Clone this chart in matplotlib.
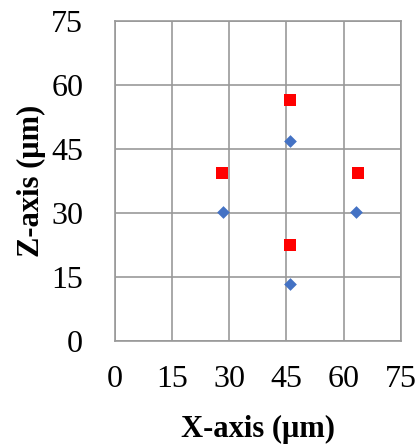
import matplotlib.pyplot as plt

plt.rcParams['font.family'] = ['Liberation Serif', 'DejaVu Serif']

# blue diamonds
blue_x = [28.4, 45.9, 45.9, 63.3]
blue_z = [30.3, 46.9, 13.4, 30.3]
# red squares
red_x = [28.1, 45.9, 45.9, 63.7]
red_z = [39.5, 56.6, 22.4, 39.5]

ticks = [0, 15, 30, 45, 60, 75]

fig = plt.figure(figsize=(4.2, 4.47), dpi=100)
ax = fig.add_axes([0.274, 0.237, 0.68, 0.716])

ax.scatter(blue_x, blue_z, marker='D', s=42, color='#4472C4', zorder=3, linewidths=0)
ax.scatter(red_x, red_z, marker='s', s=70, color='#FF0000', zorder=3, linewidths=0)

ax.set_xlim(0, 75)
ax.set_ylim(0, 75)
ax.set_xticks(ticks)
ax.set_yticks(ticks)
ax.grid(True, color='#999999', linewidth=1.2)
ax.set_axisbelow(True)
for s in ax.spines.values():
    s.set_color('#999999')
    s.set_linewidth(1.2)
ax.tick_params(length=0, labelsize=23)
ax.tick_params(axis='y', pad=23)
ax.tick_params(axis='x', pad=17)

ax.set_xlabel('X-axis (μm)', fontsize=22, fontweight='bold', labelpad=15)
ax.set_ylabel('Z-axis (μm)', fontsize=22, fontweight='bold', labelpad=4)

fig.savefig('out.png')
